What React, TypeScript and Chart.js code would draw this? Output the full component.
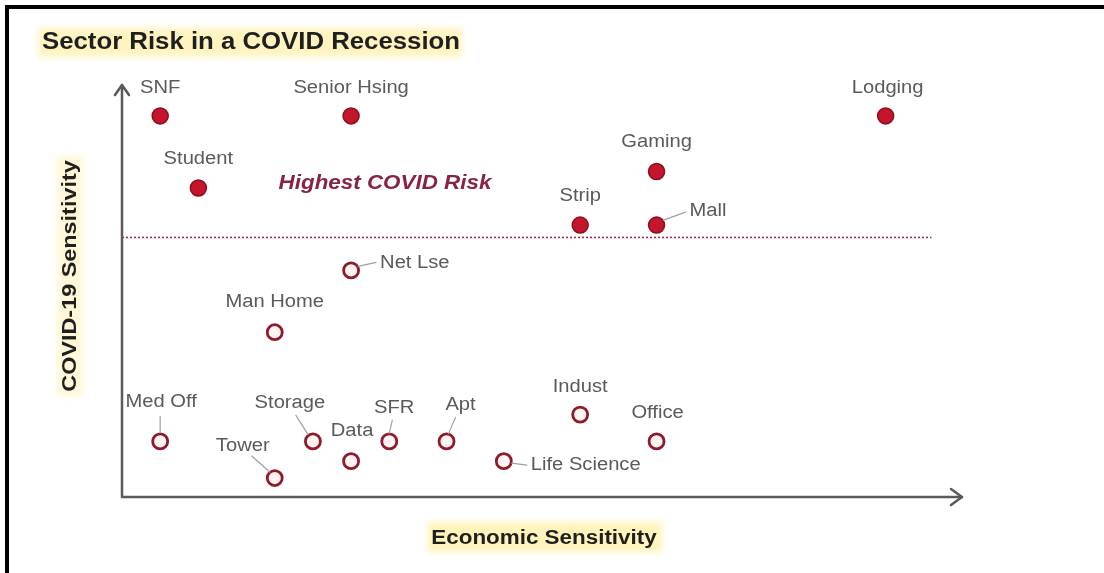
import React, { useEffect, useRef } from "react";
import { Chart, registerables } from "chart.js";

Chart.register(...registerables);

// ---- data ----
const sectors = [
  "SNF", "Senior Hsing", "Lodging", "Student", "Gaming", "Strip", "Mall",
  "Net Lse", "Man Home", "Med Off", "Storage", "Data", "SFR", "Apt",
  "Indust", "Office", "Tower", "Life Science",
];
const economicSensitivity = [1, 6, 20, 2, 14, 12, 14, 6, 4, 1, 5, 6, 7, 8.5, 12, 14, 4, 10];
const covidSensitivity = [92.5, 92.5, 92.5, 75, 79, 66, 66, 55, 40, 13.5, 13.5, 8.7, 13.5, 13.5, 20, 13.5, 4.6, 8.7];
const riskThreshold = 63;
const thresholdExtent = [0, 21.2];
const xRange = [0, 22];
const yRange = [0, 100];

const chartTitle = "Sector Risk in a COVID Recession";
const xTitle = "Economic Sensitivity";
const yTitle = "COVID-19 Sensitivity";
const zoneLabel = "Highest COVID Risk";

// ---- label layout (offsets from point, px) ----
type Lay = { dx: number; dy: number; align: CanvasTextAlign; leader?: [number, number, number, number] };
const LABEL_LAYOUT: Record<string, Lay> = {
  "SNF": { dx: 0, dy: -28, align: "center" },
  "Senior Hsing": { dx: 0, dy: -28, align: "center" },
  "Lodging": { dx: 2, dy: -28, align: "center" },
  "Student": { dx: 0, dy: -29, align: "center" },
  "Gaming": { dx: 0, dy: -29, align: "center" },
  "Strip": { dx: 0, dy: -29, align: "center" },
  "Mall": { dx: 33, dy: -14, align: "left", leader: [7, -5, 29, -13] },
  "Net Lse": { dx: 29, dy: -7, align: "left", leader: [7, -4, 25, -8] },
  "Man Home": { dx: 0, dy: -30, align: "center" },
  "Med Off": { dx: 1, dy: -39, align: "center", leader: [0, -9, 0, -25] },
  "Storage": { dx: -23, dy: -38, align: "center", leader: [-5, -7, -17, -26] },
  "Data": { dx: 1, dy: -30, align: "center" },
  "SFR": { dx: 5, dy: -33, align: "center", leader: [0, -8, 3, -21] },
  "Apt": { dx: 14, dy: -36, align: "center", leader: [2, -8, 9, -24] },
  "Indust": { dx: 0, dy: -28, align: "center" },
  "Office": { dx: 1, dy: -28, align: "center" },
  "Tower": { dx: -32, dy: -32, align: "center", leader: [-5, -6, -23, -22] },
  "Life Science": { dx: 27, dy: 4, align: "left", leader: [8, 2, 23, 4] },
};

const FONT = '"Liberation Sans", Arial, sans-serif';
const STRETCH = 1.12;

function highlight(ctx: CanvasRenderingContext2D, x: number, y: number, w: number, h: number, alpha = 0.6) {
  ctx.save();
  ctx.filter = "blur(3px)";
  ctx.fillStyle = `rgba(255, 236, 150, ${alpha})`;
  ctx.fillRect(x, y, w, h);
  ctx.restore();
}

function text(ctx: CanvasRenderingContext2D, s: string, x: number, y: number, align: CanvasTextAlign, sx = STRETCH) {
  ctx.save();
  ctx.translate(x, y);
  ctx.scale(sx, 1);
  ctx.textAlign = align;
  ctx.textBaseline = "middle";
  ctx.fillText(s, 0, 0);
  ctx.restore();
}

const decorPlugin = {
  id: "decor",
  beforeDraw(chart: any) {
    const ctx: CanvasRenderingContext2D = chart.ctx;
    const { left, bottom } = chart.chartArea;
    ctx.save();
    ctx.fillStyle = "#ffffff";
    ctx.fillRect(0, 0, chart.width, chart.height);
    // frame
    ctx.fillStyle = "#000000";
    ctx.fillRect(5, 5, chart.width - 5, 4);
    ctx.fillRect(5, 5, 4, chart.height - 5);
    // title
    highlight(ctx, 38, 28, 424, 29, 0.6);
    ctx.font = `bold 23px ${FONT}`;
    ctx.fillStyle = "#1f1f1f";
    text(ctx, chartTitle, 42, 43, "left");
    // x title
    highlight(ctx, 428, bottom + 25, 234, 30, 0.65);
    ctx.font = `bold 20px ${FONT}`;
    text(ctx, xTitle, 544, bottom + 41, "center");
    // y title
    ctx.save();
    ctx.translate(left - 52, 276);
    ctx.rotate(-Math.PI / 2);
    highlight(ctx, -120, -13, 240, 26, 0.4);
    ctx.fillStyle = "#1f1f1f";
    ctx.font = `bold 20px ${FONT}`;
    text(ctx, yTitle, 0, 0, "center", 1.17);
    ctx.restore();
    ctx.restore();
  },
  afterDatasetsDraw(chart: any) {
    const ctx: CanvasRenderingContext2D = chart.ctx;
    const xs = chart.scales.x;
    const ys = chart.scales.y;
    const { left, right, top, bottom } = chart.chartArea;
    ctx.save();
    // axes with arrows
    ctx.strokeStyle = "#5a5a5a";
    ctx.lineWidth = 2.5;
    ctx.lineCap = "round";
    ctx.lineJoin = "round";
    ctx.beginPath();
    ctx.moveTo(left, top);
    ctx.lineTo(left, bottom);
    ctx.lineTo(right, bottom);
    ctx.stroke();
    ctx.beginPath();
    ctx.moveTo(left - 7, top + 10);
    ctx.lineTo(left, top);
    ctx.lineTo(left + 7, top + 10);
    ctx.moveTo(right - 11, bottom - 8);
    ctx.lineTo(right, bottom);
    ctx.lineTo(right - 11, bottom + 8);
    ctx.stroke();

    // zone label
    ctx.font = `italic bold 20px ${FONT}`;
    ctx.fillStyle = "#8a2246";
    text(ctx, zoneLabel, xs.getPixelForValue(4.1), ys.getPixelForValue(76.2), "left");

    // point labels
    ctx.font = `18px ${FONT}`;
    sectors.forEach((name, i) => {
      const px = xs.getPixelForValue(economicSensitivity[i]);
      const py = ys.getPixelForValue(covidSensitivity[i]);
      const lay = LABEL_LAYOUT[name];
      if (!lay) return;
      if (lay.leader) {
        const [x1, y1, x2, y2] = lay.leader;
        ctx.strokeStyle = "#a0a0a0";
        ctx.lineWidth = 1.2;
        ctx.beginPath();
        ctx.moveTo(px + x1, py + y1);
        ctx.lineTo(px + x2, py + y2);
        ctx.stroke();
      }
      ctx.fillStyle = "#5a5a5a";
      text(ctx, name, px + lay.dx, py + lay.dy, lay.align);
    });
    ctx.restore();
  },
};

export default function App() {
  const ref = useRef<HTMLCanvasElement | null>(null);
  useEffect(() => {
    document.body.style.margin = "0";
    if (!ref.current) return;
    const idx = sectors.map((_, i) => i);
    const high = idx.filter((i) => covidSensitivity[i] > riskThreshold);
    const low = idx.filter((i) => covidSensitivity[i] <= riskThreshold);
    const chart = new Chart(ref.current, {
      type: "scatter",
      data: {
        datasets: [
          {
            type: "line",
            label: "threshold",
            data: thresholdExtent.map((x) => ({ x, y: riskThreshold })),
            borderColor: "#a8284a",
            borderWidth: 1.6,
            borderDash: [2, 2],
            pointRadius: 0,
            fill: false,
            order: 3,
          } as any,
          {
            label: "Highest COVID Risk",
            data: high.map((i) => ({ x: economicSensitivity[i], y: covidSensitivity[i] })),
            backgroundColor: "#c3162c",
            borderColor: "#8c0d1e",
            borderWidth: 1.5,
            pointRadius: 8,
            order: 1,
          },
          {
            label: "Other",
            data: low.map((i) => ({ x: economicSensitivity[i], y: covidSensitivity[i] })),
            backgroundColor: "#fff4f2",
            borderColor: "#8e1a2c",
            borderWidth: 2.8,
            pointRadius: 7.5,
            order: 2,
          },
        ],
      },
      options: {
        responsive: false,
        animation: false,
        layout: { padding: { left: 122, right: 142, top: 85, bottom: 76 } },
        scales: {
          x: { type: "linear", min: xRange[0], max: xRange[1], display: false },
          y: { type: "linear", min: yRange[0], max: yRange[1], display: false },
        },
        plugins: { legend: { display: false }, tooltip: { enabled: false } },
      },
      plugins: [decorPlugin],
    });
    return () => chart.destroy();
  }, []);
  return (
    <div style={{ width: 1104, height: 573 }}>
      <canvas ref={ref} width={1104} height={573} style={{ display: "block" }} />
    </div>
  );
}
